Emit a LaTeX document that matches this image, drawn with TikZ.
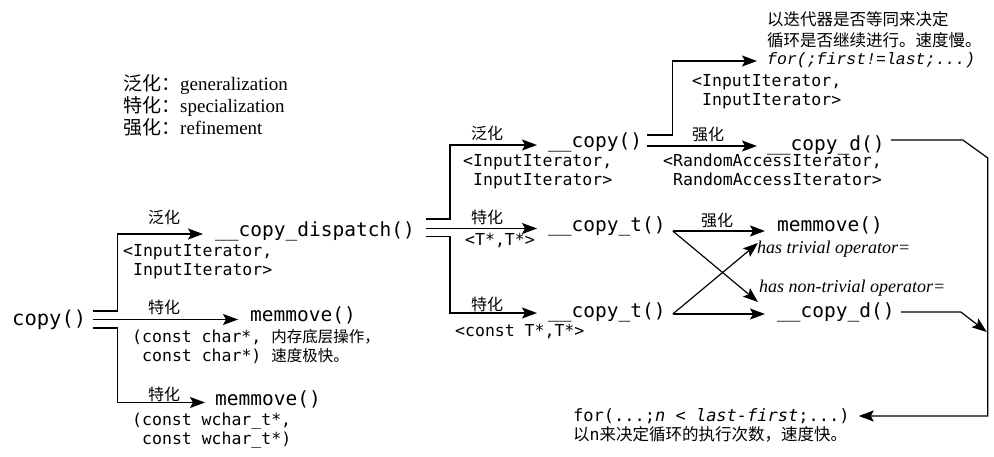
\documentclass[tikz,border=0pt]{standalone}
\usepackage{fontspec}
\setmainfont{Liberation Serif}
\newfontfamily\mono{DejaVu Sans Mono}
\newfontfamily\cjk{Noto Sans CJK SC}
\newfontfamily\cmono{Liberation Mono}
\usetikzlibrary{arrows.meta}
\tikzset{
  fn/.style={font=\mono\fontsize{19.5}{22}\selectfont, inner sep=0pt, anchor=base west},
  prm/.style={font=\mono\fontsize{16.5}{19}\selectfont, inner sep=0pt, anchor=base west},
  lab/.style={font=\cjk\fontsize{16}{18}\selectfont, inner sep=0pt, anchor=base},
  note/.style={font=\cjk\fontsize{16.5}{20}\selectfont, inner sep=0pt, anchor=base west},
  opr/.style={font=\itshape\fontsize{18}{20}\selectfont, inner sep=0pt, anchor=base west},
  leg/.style={font=\fontsize{19}{22}\selectfont, inner sep=0pt, anchor=base west},
  arr/.style={line width=1.2pt, -{Stealth[length=15pt,width=11pt,inset=3pt]}},
}
\begin{document}
\begin{tikzpicture}[x=1pt,y=-1pt]
\useasboundingbox (0,0) rectangle (994,457);
% legend
\node[leg] (lg1) at (123,91) {{\cjk 泛化：}generalization};
\node[leg] (lg2) at (123,113) {{\cjk 特化：}specialization};
\node[leg] (lg3) at (123,135) {{\cjk 强化：}refinement};

% function nodes
\node[fn,font=\mono\fontsize{20.5}{22}\selectfont] (cp) at (12,326) {copy()};
\node[fn] (disp) at (215,236.5) {\_\_copy\_dispatch()};
\node[fn] (mm1) at (250,322) {memmove()};
\node[fn] (mm2) at (215,405) {memmove()};
\node[fn] (cpy) at (548,147.5) {\_\_copy()};
\node[fn] (cpt1) at (548,231.5) {\_\_copy\_t()};
\node[fn] (cpt2) at (548,318) {\_\_copy\_t()};
\node[fn] (cpd1) at (767,151) {\_\_copy\_d()};
\node[fn] (mm3) at (777,232) {memmove()};
\node[fn] (cpd2) at (777,318) {\_\_copy\_d()};
\node[font=\cmono\itshape\fontsize{16.5}{19}\selectfont, inner sep=0pt, anchor=base west] (forA) at (767,65) {for(;first!=last;...)};
\node[prm,font=\mono\fontsize{17}{19}\selectfont] (forB) at (573,421) {for(...;\textit{n} < \textit{last-first};...)};

% notes
\node[note] (na1) at (767,26) {以迭代器是否等同来决定};
\node[note] (na2) at (767,47) {循环是否继续进行。速度慢。};
\node[note] (nb) at (573,440) {以{\mono n}来决定循环的执行次数，速度快。};

% parameters
\node[prm] (p1a) at (123,257) {<InputIterator,};
\node[prm] (p1b) at (133,276) {InputIterator>};
\node[prm] (p2a) at (132,342) {(const char*, {\cjk\fontsize{15.5}{18}\selectfont 内存底层操作，}};
\node[prm] (p2b) at (142,361) {const char*) {\cjk\fontsize{15.5}{18}\selectfont 速度极快。}};
\node[prm] (p3a) at (132,425) {(const wchar\_t*,};
\node[prm] (p3b) at (142,444) {const wchar\_t*)};
\node[prm] (p4a) at (463,167) {<InputIterator,};
\node[prm] (p4b) at (473,186) {InputIterator>};
\node[prm] (p5) at (465,246) {<T*,T*>};
\node[prm] (p6) at (455,336) {<const T*,T*>};
\node[prm] (p7a) at (692,87) {<InputIterator,};
\node[prm] (p7b) at (702,106) {InputIterator>};
\node[prm] (p8a) at (663,167) {<RandomAccessIterator,};
\node[prm] (p8b) at (673,186) {RandomAccessIterator>};

% operator labels
\node[opr] (op1) at (757,254) {has trivial operator=};
\node[opr] (op2) at (759,293) {has non-trivial operator=};

% arrow labels
\node[lab] (l1) at (164,224) {泛化};
\node[lab] (l2) at (164,314) {特化};
\node[lab] (l3) at (164,400) {特化};
\node[lab] (l4) at (487,140) {泛化};
\node[lab] (l5) at (487,224) {特化};
\node[lab] (l6) at (487,310) {特化};
\node[lab] (l7) at (708,141) {强化};
\node[lab] (l8) at (717,227) {强化};

% connectors from copy()
\draw[arr] ([xshift=7pt,yshift=15pt]cp.base east) -- ++(24,0) |- ([xshift=-12pt,yshift=2.5pt]disp.base west);
\draw[arr] ([xshift=7pt,yshift=6.5pt]cp.base east) -- ([xshift=-12pt,yshift=2.5pt]mm1.base west);
\draw[arr] ([xshift=7pt,yshift=-2pt]cp.base east) -- ++(24,0) |- ([xshift=-10pt,yshift=2.5pt]mm2.base west);

% connectors from __copy_dispatch()
\draw[arr] ([xshift=11pt,yshift=17.5pt]disp.base east) -- ++(24,0) |- ([xshift=-11pt,yshift=2.5pt]cpy.base west);
\draw[arr] ([xshift=11pt,yshift=8pt]disp.base east) -- ([xshift=-11pt,yshift=3pt]cpt1.base west);
\draw[arr] ([xshift=11pt,yshift=0pt]disp.base east) -- ++(24,0) |- ([xshift=-11pt,yshift=5pt]cpt2.base west);

% connectors from __copy()
\draw[arr] ([xshift=5pt,yshift=12.5pt]cpy.base east) -- ++(25,0) |- ([xshift=-10pt,yshift=4pt]forA.base west);
\draw[arr] ([xshift=5pt,yshift=1.5pt]cpy.base east) -- ([xshift=-10pt,yshift=5pt]cpd1.base west);

% connectors from __copy_t()
\draw[arr] ([xshift=7pt,yshift=0.5pt]cpt1.base east) -- ([xshift=-12pt,yshift=1pt]mm3.base west);
\draw[arr] ([xshift=7pt,yshift=0.5pt]cpt1.base east) -- ([xshift=-19pt,yshift=16pt]cpd2.base west);
\draw[arr] ([xshift=7pt,yshift=4pt]cpt2.base east) -- ([xshift=-12pt,yshift=4pt]cpd2.base west);
\draw[arr] ([xshift=7pt,yshift=4pt]cpt2.base east) -- ([xshift=-19pt,yshift=-11pt]mm3.base west);

% connectors from __copy_d()
\draw[arr] ([xshift=6pt,yshift=11pt]cpd1.base east) -- ++(72,0) -- ++(25,18) |- ([xshift=9pt,yshift=5pt]forB.base east);
\draw[arr] ([xshift=6pt,yshift=6pt]cpd2.base east) -- ++(60,0) -- ++(26,20);
\end{tikzpicture}
\end{document}
